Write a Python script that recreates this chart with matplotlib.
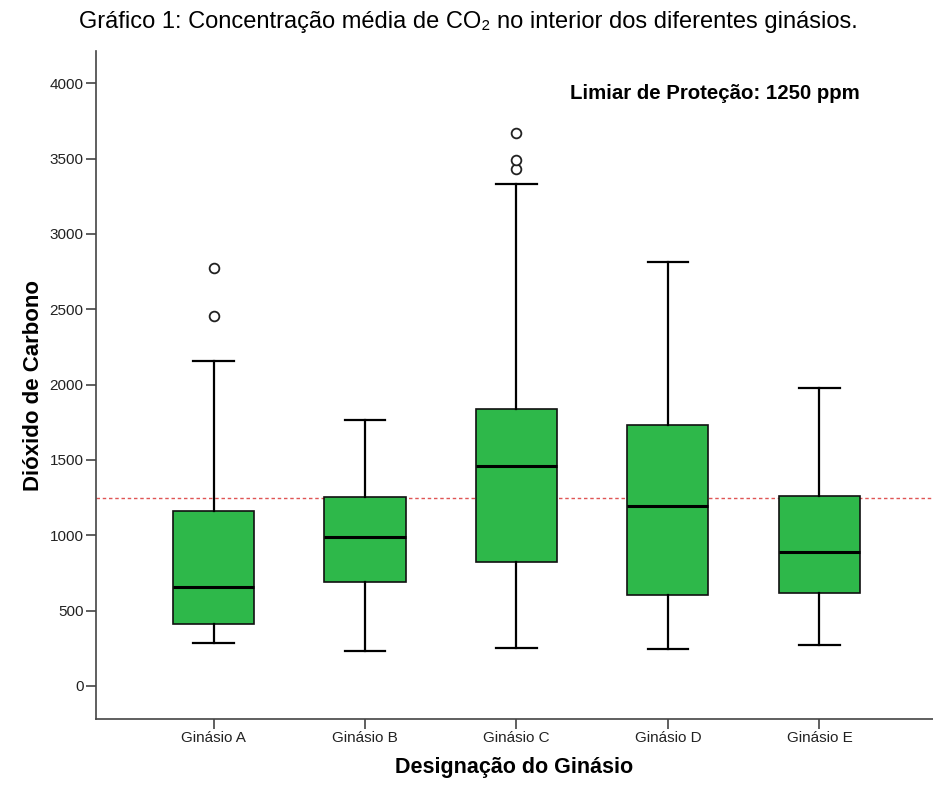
import numpy as np
import matplotlib
matplotlib.use("Agg")
import matplotlib.pyplot as plt

plt.rcParams['font.family'] = ['Liberation Sans', 'DejaVu Sans']

# summary statistics per gym (ppm CO2)
ginasios = ["Ginásio A", "Ginásio B", "Ginásio C", "Ginásio D", "Ginásio E"]
wh_low = [283, 230, 250, 246, 272]
q1 = [410, 688, 825, 604, 615]
mediana = [656, 986, 1462, 1193, 891]
q3 = [1161, 1251, 1838, 1732, 1261]
wh_high = [2159, 1764, 3332, 2814, 1978]
outliers = [[2456, 2772], [], [3430, 3490, 3672], [], []]
limiar = 1250

stats = []
for i, nome in enumerate(ginasios):
    stats.append(dict(label=nome, whislo=wh_low[i], q1=q1[i], med=mediana[i],
                      q3=q3[i], whishi=wh_high[i], fliers=outliers[i]))

fig = plt.figure(figsize=(9.33, 7.87), dpi=100)
ax = fig.add_axes([96/933, 1 - 719/787, 1 - 96/933, (719 - 51)/787])

pos = np.arange(1, len(ginasios) + 1)
ax.bxp(stats, positions=pos, widths=0.535, patch_artist=True,
       boxprops=dict(facecolor='#2eb84a', edgecolor='#111111', linewidth=1.2),
       medianprops=dict(color='black', linewidth=2.2),
       whiskerprops=dict(color='black', linewidth=1.6),
       capprops=dict(color='black', linewidth=1.6),
       flierprops=dict(marker='o', markerfacecolor='white', markeredgecolor='#222222',
                       markersize=7, markeredgewidth=1.3),
       zorder=3)

# protection threshold
ax.axhline(limiar, color='#e05555', linestyle=(0, (2.5, 2)), linewidth=1.0, zorder=2)

ax.set_xlim(0.224, 5.75)
ax.set_ylim(-219, 4214)
ax.set_yticks([0, 500, 1000, 1500, 2000, 2500, 3000, 3500, 4000])
ax.set_xticks(pos)
ax.set_xticklabels(ginasios)

for s in ['top', 'right']:
    ax.spines[s].set_visible(False)
for s in ['left', 'bottom']:
    ax.spines[s].set_color('#444444')
    ax.spines[s].set_linewidth(1.2)
ax.tick_params(axis='both', colors='#444444', labelcolor='#222222', labelsize=11,
               length=7, width=1.2, pad=2)

ax.set_ylabel("Dióxido de Carbono", fontsize=16, fontweight='bold', labelpad=4)
ax.set_xlabel("Designação do Ginásio", fontsize=15.5, fontweight='bold', labelpad=8)

ax.text((570 - 96)/837, (719 - 93)/668, "Limiar de Proteção: 1250 ppm", transform=ax.transAxes,
        ha='left', va='center', fontsize=14.7, fontweight='bold')

fig.text(468/933, 1 - 22/787, "Gráfico 1: Concentração média de CO₂ no interior dos diferentes ginásios.",
         ha='center', va='center', fontsize=17)

fig.savefig("out.png", dpi=100)
